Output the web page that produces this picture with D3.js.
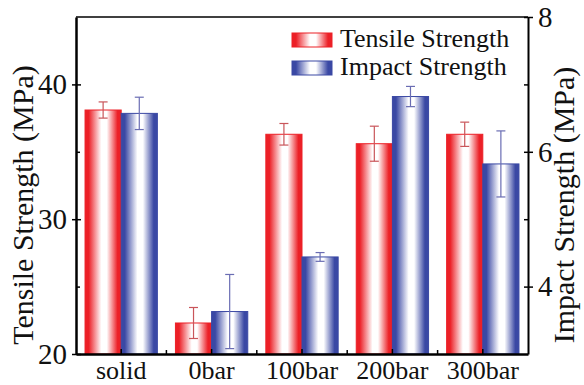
<!DOCTYPE html>
<html>
<head>
<meta charset="utf-8">
<script src="https://cdn.jsdelivr.net/npm/d3@7"></script>
</head>
<body style="margin:0; background:#fff">
<div class="myChart"></div>
<script>
var categories = ["solid", "0bar", "100bar", "200bar", "300bar"];
var series = ["Tensile Strength", "Impact Strength"];
var tensile = [38.1, 22.3, 36.3, 35.6, 36.3];
var tensileErr = [0.6, 1.15, 0.8, 1.3, 0.9];
var impact = [6.57, 3.63, 4.44, 6.82, 5.82];
var impactErr = [0.24, 0.55, 0.065, 0.15, 0.49];
var leftTicks = [20, 25, 30, 35, 40];
var rightTicks = [4, 5, 6, 7, 8];

var svgWidth = 584;
var svgHeight = 385;
var plot = { left: 76, right: 528, top: 17, bottom: 354 };
var serif = "'Liberation Serif'";

var svg = d3.select(".myChart")
  .append("svg")
  .attr("width", svgWidth)
  .attr("height", svgHeight)
  .attr("font-family", "Liberation Serif")
  .style("display", "block");

// gradients: colour at the edges, white in the middle
var defs = svg.append("defs");
[["gradRed", "#ec2027"], ["gradBlue", "#3a48a4"]].forEach(function(g) {
  var lg = defs.append("linearGradient").attr("id", g[0])
    .attr("x1", "0%").attr("x2", "100%").attr("y1", "0%").attr("y2", "0%");
  [[0, 1], [0.1, 1], [0.45, 0], [0.6, 0], [0.9, 1], [1, 1]].forEach(function(s) {
    lg.append("stop").attr("offset", s[0])
      .attr("stop-color", d3.interpolateRgb("#ffffff", g[1])(s[1]));
  });
});

var x = d3.scaleBand().domain(categories)
  .range([plot.left, plot.right]).paddingInner(0.2).paddingOuter(0.1);
var xSub = d3.scaleBand().domain(series).range([0, x.bandwidth()]);
var yLeft = d3.scaleLinear().domain([20, 45]).range([plot.bottom, plot.top]);
var yRight = d3.scaleLinear().domain([3, 8]).range([plot.bottom, plot.top]);

var rows = categories.map(function(c, i) {
  return [
    { cat: c, s: series[0], v: tensile[i], e: tensileErr[i], y: yLeft, fill: "url(#gradRed)", stroke: "#ec2027", err: "#c9555a" },
    { cat: c, s: series[1], v: impact[i], e: impactErr[i], y: yRight, fill: "url(#gradBlue)", stroke: "#3a48a4", err: "#6a6db3" }
  ];
});
var bars = [].concat.apply([], rows);

var chart = svg.append("g");

chart.selectAll("rect.bar")
  .data(bars)
  .enter().append("rect")
  .attr("class", "bar")
  .attr("x", function(d) { return x(d.cat) + xSub(d.s); })
  .attr("y", function(d) { return d.y(d.v); })
  .attr("width", xSub.bandwidth())
  .attr("height", function(d) { return plot.bottom - d.y(d.v); })
  .attr("fill", function(d) { return d.fill; })
  .attr("stroke", function(d) { return d.stroke; })
  .attr("stroke-width", 1);

// error bars
var eb = chart.selectAll("g.err")
  .data(bars)
  .enter().append("g")
  .attr("class", "err")
  .attr("stroke", function(d) { return d.err; })
  .attr("stroke-width", 1.2);
eb.append("line")
  .attr("x1", function(d) { return x(d.cat) + xSub(d.s) + xSub.bandwidth() / 2; })
  .attr("x2", function(d) { return x(d.cat) + xSub(d.s) + xSub.bandwidth() / 2; })
  .attr("y1", function(d) { return d.y(d.v + d.e); })
  .attr("y2", function(d) { return d.y(d.v - d.e); });
[1, -1].forEach(function(sign) {
  eb.append("line")
    .attr("x1", function(d) { return x(d.cat) + xSub(d.s) + xSub.bandwidth() / 2 - 4.5; })
    .attr("x2", function(d) { return x(d.cat) + xSub(d.s) + xSub.bandwidth() / 2 + 4.5; })
    .attr("y1", function(d) { return d.y(d.v + sign * d.e); })
    .attr("y2", function(d) { return d.y(d.v + sign * d.e); });
});

// frame
chart.append("line")
  .attr("x1", plot.left).attr("x2", plot.right)
  .attr("y1", plot.top).attr("y2", plot.top)
  .attr("stroke", "#000").attr("stroke-width", 1.5);

// left axis
var leftAxis = d3.axisLeft(yLeft).tickValues(leftTicks)
  .tickSize(0).tickPadding(9)
  .tickFormat(function(d) { return d % 10 === 0 ? d : ""; });
var gl = chart.append("g")
  .attr("transform", "translate(" + plot.left + ",0)")
  .call(leftAxis)
  .attr("font-family", "Liberation Serif");
gl.select(".domain").attr("stroke-width", 2.5);
gl.selectAll(".tick line")
  .attr("x1", function(d) { return d % 10 === 0 ? -4 : 0; })
  .attr("x2", function(d) { return d % 10 === 0 ? 5 : 4; })
  .attr("stroke-width", 1.5);
gl.selectAll("text").style("font-family", serif).style("font-size", "29px").attr("fill", "#111");

// right axis
var rightAxis = d3.axisRight(yRight).tickValues(rightTicks)
  .tickSize(0).tickPadding(10)
  .tickFormat(function(d) { return d % 2 === 0 ? d : ""; });
var gr = chart.append("g")
  .attr("transform", "translate(" + plot.right + ",0)")
  .call(rightAxis)
  .attr("font-family", "Liberation Serif");
gr.select(".domain").attr("stroke-width", 2);
gr.selectAll(".tick line")
  .attr("x1", -4)
  .attr("x2", function(d) { return d % 2 === 0 ? 5 : 0; })
  .attr("stroke-width", 1.5);
gr.selectAll("text").style("font-family", serif).style("font-size", "29px").attr("fill", "#111");

// bottom axis
var bottomAxis = d3.axisBottom(x).tickSize(0).tickPadding(7);
var gb = chart.append("g")
  .attr("transform", "translate(0," + plot.bottom + ")")
  .call(bottomAxis)
  .attr("font-family", "Liberation Serif");
gb.select(".domain").attr("stroke-width", 2.5);
gb.selectAll(".tick line").attr("y2", -5).attr("stroke-width", 1.5);
gb.selectAll("text").style("font-family", serif).style("font-size", "26px").attr("fill", "#111")
  .attr("dy", "0.71em");
gb.selectAll("line.minor")
  .data(categories.slice(1))
  .enter().append("line")
  .attr("class", "minor")
  .attr("x1", function(d) { return x(d) - x.step() * x.paddingInner() / 2; })
  .attr("x2", function(d) { return x(d) - x.step() * x.paddingInner() / 2; })
  .attr("y1", 0).attr("y2", -4)
  .attr("stroke", "#000").attr("stroke-width", 1.5);

// axis titles
chart.append("text")
  .attr("transform", "translate(33," + 205 + ") rotate(-90)")
  .style("text-anchor", "middle")
  .style("font-family", serif)
  .style("font-size", "30px")
  .attr("fill", "#111")
  .text("Tensile Strength (MPa)");

chart.append("text")
  .attr("transform", "translate(574," + 205 + ") rotate(-90)")
  .style("text-anchor", "middle")
  .style("font-family", serif)
  .style("font-size", "30px")
  .attr("fill", "#111")
  .text("Impact Strength (MPa)");

// legend
var legend = chart.selectAll("g.legend")
  .data([{ name: series[0], fill: "url(#gradRed)", stroke: "#ec2027" },
         { name: series[1], fill: "url(#gradBlue)", stroke: "#3a48a4" }])
  .enter().append("g")
  .attr("class", "legend")
  .attr("transform", function(d, i) { return "translate(292," + (33 + i * 28) + ")"; });
legend.append("rect")
  .attr("width", 40).attr("height", 14)
  .attr("fill", function(d) { return d.fill; })
  .attr("stroke", function(d) { return d.stroke; });
legend.append("text")
  .attr("x", 48).attr("y", 14)
  .style("font-family", serif)
  .style("font-size", "26px")
  .attr("fill", "#111")
  .text(function(d) { return d.name; });
</script>
</body>
</html>
